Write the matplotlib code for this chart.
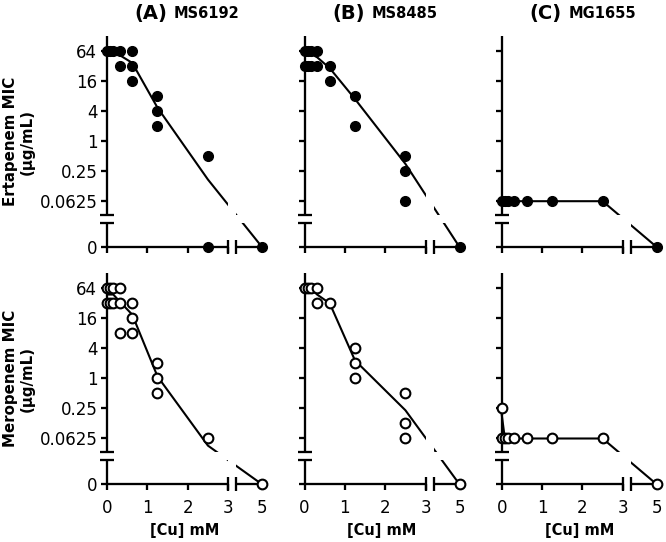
import numpy as np
import matplotlib
matplotlib.use('Agg')
import matplotlib.pyplot as plt
from matplotlib.path import Path

# Cu concentrations (mM) used for the connecting lines
conc = [0, 0.078, 0.156, 0.3125, 0.625, 1.25, 2.5, 5]

# Ertapenem MIC (top row), replicate points
ert_a_x = [0, 0.078, 0.156, 0.3125, 0.3125, 0.625, 0.625, 0.625, 1.25, 1.25, 1.25, 2.5, 2.5, 5]
ert_a_y = [64, 64, 64, 64, 32, 64, 32, 16, 8, 4, 2, 0.5, 0, 0]
ert_a_line = [64, 64, 64, 53, 37, 4.7, 0.17, 0]

ert_b_x = [0, 0, 0.078, 0.078, 0.156, 0.156, 0.3125, 0.3125, 0.625, 0.625, 1.25, 1.25, 2.5, 2.5, 2.5, 5]
ert_b_y = [64, 32, 64, 32, 64, 32, 64, 32, 32, 16, 8, 2, 0.5, 0.25, 0.0625, 0]
ert_b_line = [64, 60, 56, 48, 29, 7, 0.35, 0]

ert_c_x = [0, 0.078, 0.156, 0.3125, 0.625, 1.25, 2.5, 5]
ert_c_y = [0.0625, 0.0625, 0.0625, 0.0625, 0.0625, 0.0625, 0.0625, 0]
ert_c_line = [0.0625, 0.0625, 0.0625, 0.0625, 0.0625, 0.0625, 0.0625, 0]

# Meropenem MIC (bottom row)
mero_a_x = [0, 0, 0.078, 0.078, 0.156, 0.156, 0.3125, 0.3125, 0.3125, 0.625, 0.625, 0.625, 1.25, 1.25, 1.25, 2.5, 5]
mero_a_y = [64, 32, 64, 32, 64, 32, 64, 32, 8, 32, 16, 8, 2, 1, 0.5, 0.0625, 0]
mero_a_line = [48, 48, 48, 35, 19, 1.1, 0.045, 0]

mero_b_x = [0, 0.078, 0.156, 0.3125, 0.3125, 0.625, 1.25, 1.25, 1.25, 2.5, 2.5, 2.5, 5]
mero_b_y = [64, 64, 64, 64, 32, 32, 4, 2, 1, 0.5, 0.125, 0.0625, 0]
mero_b_line = [64, 64, 64, 48, 32, 2.3, 0.23, 0]

mero_c_x = [0, 0, 0.078, 0.156, 0.3125, 0.625, 1.25, 2.5, 5]
mero_c_y = [0.25, 0.0625, 0.0625, 0.0625, 0.0625, 0.0625, 0.0625, 0.0625, 0]
mero_c_line = [0.19, 0.0625, 0.0625, 0.0625, 0.0625, 0.0625, 0.0625, 0]

titles = [('(A)', 'MS6192'), ('(B)', 'MS8485'), ('(C)', 'MG1655')]
row_labels = ['Ertapenem MIC\n(µg/mL)', 'Meropenem MIC\n(µg/mL)']
ytick_vals = [64, 16, 4, 1, 0.25, 0.0625, 0]
ytick_text = ['64', '16', '4', '1', '0.25', '0.0625', '0']
xtick_vals = [0, 1, 2, 3, 5]
xtick_text = ['0', '1', '2', '3', '5']

# broken-axis scale settings (in scaled units)
ZERO_POS = -7.05      # where 0 sits below the log2 part
YTOP = 7
YB1, YB2 = -4.9, -5.45
XB1, XB2 = 3.0, 3.2
XS = 0.42             # compression of the 3..5 segment


def fwd_x(x):
    x = np.asarray(x, dtype=float)
    return np.where(x <= 3, x, 3 + (x - 3) * XS)


def inv_x(t):
    t = np.asarray(t, dtype=float)
    return np.where(t <= 3, t, 3 + (t - 3) / XS)


def fwd_y(v):
    v = np.asarray(v, dtype=float)
    return np.where(v > 0, np.log2(np.clip(v, 1e-12, None)), ZERO_POS)


def inv_y(t):
    t = np.asarray(t, dtype=float)
    return np.where(t > ZERO_POS + 1e-9, 2.0 ** t, 0.0)


plt.rcParams.update({'font.family': 'DejaVu Sans', 'font.size': 12})
LW = 1.65

W, H = 666, 542
fig = plt.figure(figsize=(W / 100, H / 100), dpi=100)

lefts = [107, 304.5, 501.7]
zero_px = [247, 484.3]
ax_w, ax_h = 155, 211

data = [
    [(ert_a_x, ert_a_y, ert_a_line), (ert_b_x, ert_b_y, ert_b_line), (ert_c_x, ert_c_y, ert_c_line)],
    [(mero_a_x, mero_a_y, mero_a_line), (mero_b_x, mero_b_y, mero_b_line), (mero_c_x, mero_c_y, mero_c_line)],
]

# visible region for the connecting line (gaps at the breaks)
rects = [(-10, XB1, YB1, 20), (XB2, 10, YB1, 20), (-10, XB1, -20, YB2), (XB2, 10, -20, YB2)]
verts, codes = [], []
for x0, x1, y0, y1 in rects:
    verts += [(x0, y0), (x1, y0), (x1, y1), (x0, y1), (x0, y0)]
    codes += [Path.MOVETO, Path.LINETO, Path.LINETO, Path.LINETO, Path.CLOSEPOLY]
clip = Path(verts, codes)

xmax_s = float(fwd_x(5))

for r in range(2):
    for c in range(3):
        ax = fig.add_axes([lefts[c] / W, 1 - zero_px[r] / H, ax_w / W, ax_h / H])
        ax.set_xscale('function', functions=(fwd_x, inv_x))
        ax.set_yscale('function', functions=(fwd_y, inv_y))
        ax.set_xlim(0, 5)
        ax.set_ylim(0, 2.0 ** YTOP)
        for s in ax.spines.values():
            s.set_visible(False)
        ax.patch.set_visible(False)

        ax.set_yticks(ytick_vals)
        ax.set_yticklabels(ytick_text if c == 0 else [''] * len(ytick_vals))
        ax.set_xticks(xtick_vals)
        ax.set_xticklabels(xtick_text if r == 1 else [''] * len(xtick_vals))
        ax.minorticks_off()
        ax.tick_params(axis='both', direction='out', length=4.5, width=LW, labelsize=12)
        ax.tick_params(axis='y', pad=2.5)
        ax.tick_params(axis='x', pad=6)

        T = ax.transLimits + ax.transAxes
        # axis segments with breaks
        kw = dict(color='k', lw=LW, transform=T, clip_on=False, solid_capstyle='butt')
        ax.plot([0, 0], [YTOP, YB1], **kw)
        ax.plot([0, 0], [YB2, ZERO_POS], **kw)
        ax.plot([0, XB1], [ZERO_POS, ZERO_POS], **kw)
        ax.plot([XB2, xmax_s], [ZERO_POS, ZERO_POS], **kw)
        ax.plot([0, 0], [YB1, YB2], ls='none', marker='_', ms=9.5, mew=LW,
                color='k', transform=T, clip_on=False)
        ax.plot([XB1, XB2], [ZERO_POS, ZERO_POS], ls='none', marker='|', ms=9.5, mew=LW,
                color='k', transform=T, clip_on=False)

        px, py, pl = data[r][c]
        ln, = ax.plot(conc, pl, color='k', lw=1.5, zorder=2)
        ln.set_clip_path(clip, T)
        ln.set_clip_box(None)

        if r == 0:
            ax.plot(px, py, 'o', ms=7, color='k', clip_on=False, zorder=3)
        else:
            ax.plot(px, py, 'o', ms=7, mfc='white', mec='k', mew=1.5, clip_on=False, zorder=3)

        if r == 0:
            fig.text((lefts[c] + 60) / W, 1 - 18.5 / H, titles[c][0], ha='right', va='baseline',
                     fontsize=14, fontweight='bold')
            fig.text((lefts[c] + 67) / W, 1 - 18.5 / H, titles[c][1], ha='left', va='baseline',
                     fontsize=10.5, fontweight='bold')
        else:
            fig.text((lefts[c] + ax_w / 2) / W, 1 - 531 / H, '[Cu] mM', ha='center', va='center',
                     fontsize=10.5, fontweight='bold')

    fig.text(18.5 / W, 1 - (zero_px[r] - ax_h / 2) / H, row_labels[r], rotation=90,
             ha='center', va='center', multialignment='center', fontsize=10.8,
             fontweight='bold', linespacing=1.15)

fig.savefig('out.png', dpi=100)
